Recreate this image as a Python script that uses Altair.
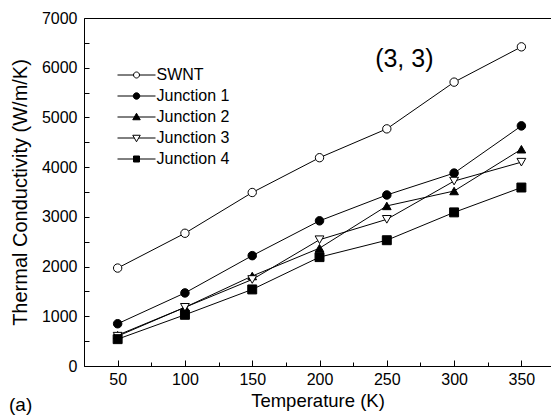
import altair as alt
import pandas as pd

# ---- data ----
temps = [50, 100, 150, 200, 250, 300, 350]
series_names = ["SWNT", "Junction 1", "Junction 2", "Junction 3", "Junction 4"]
swnt = [1970, 2670, 3490, 4190, 4770, 5710, 6420]
junction1 = [850, 1470, 2220, 2920, 3440, 3880, 4830]
junction2 = [620, 1180, 1810, 2370, 3220, 3520, 4360]
junction3 = [600, 1180, 1740, 2540, 2950, 3720, 4100]
junction4 = [540, 1030, 1540, 2190, 2530, 3090, 3590]

x_major_ticks = [50, 100, 150, 200, 250, 300, 350]
x_minor_ticks = [25, 75, 125, 175, 225, 275, 325]
y_tick_values = list(range(0, 7001, 500))

annotation_text = ["(3, 3)"]
annotation_T = [263]
annotation_k = [6175]
panel_label = ["(a)"]

rows = []
for name, vals in zip(series_names, [swnt, junction1, junction2, junction3, junction4]):
    for t, v in zip(temps, vals):
        rows.append({"series": name, "T": t, "k": v})
df = pd.DataFrame(rows)

FONT = "Liberation Sans"
W, H = 467, 348

xscale = alt.Scale(domain=[25, 372], nice=False, zero=False)
yscale = alt.Scale(domain=[0, 7000], nice=False)

xaxis = alt.Axis(
    orient="bottom",
    values=x_major_ticks,
    format="d",
    title="Temperature (K)",
    domain=False, grid=False,
    ticks=True, tickSize=6, offset=-6, tickColor="black", tickWidth=1,
    labelFont=FONT, labelFontSize=16, labelColor="black", labelPadding=5,
    labelOverlap=False, labelFlush=False,
    titleFont=FONT, titleFontSize=18.5, titleFontWeight="normal", titleColor="black",
    titlePadding=4,
)
xaxis_minor = alt.Axis(
    orient="bottom",
    values=x_minor_ticks,
    title=None, labels=False,
    domain=False, grid=False,
    ticks=True, tickSize=4, offset=-4, tickColor="black", tickWidth=1,
)
yaxis = alt.Axis(
    orient="left",
    values=y_tick_values,
    labelExpr="datum.value % 1000 == 0 ? datum.label : ''",
    format="d",
    title="Thermal Conductivity (W/m/K)",
    domain=False, grid=False,
    ticks=True, tickSize=5, offset=-5, tickColor="black", tickWidth=1,
    labelFont=FONT, labelFontSize=16, labelColor="black", labelPadding=7,
    labelOverlap=False, labelFlush=False,
    titleFont=FONT, titleFontSize=20, titleFontWeight="normal", titleColor="black",
    titlePadding=11,
)

shapes = ["circle", "circle", "triangle-up", "triangle-down", "square"]
fills = ["white", "black", "black", "white", "black"]
strokes = ["black", "black", "black", "black", "black"]
sizes = [70, 80, 95, 95, 60]

legend_paths = [
    "M-3.8,0H-0.6M0.6,0H3.8M0.6,0A0.6,0.6,0,1,1,-0.6,0A0.6,0.6,0,1,1,0.6,0Z",
    "M-3.8,0H3.8M0.65,0A0.65,0.65,0,1,1,-0.65,0A0.65,0.65,0,1,1,0.65,0Z",
    "M-3.8,0H3.8M0,-0.75L0.75,0.55L-0.75,0.55Z",
    "M-3.8,0H-0.45M0.45,0H3.8M-0.75,-0.55L0.75,-0.55L0,0.75Z",
    "M-3.8,0H3.8M-0.6,-0.6H0.6V0.6H-0.6Z",
]

base = alt.Chart(df)

lines = base.mark_line(color="black", strokeWidth=1).encode(
    x=alt.X("T:Q", scale=xscale, axis=xaxis),
    y=alt.Y("k:Q", scale=yscale, axis=yaxis),
    detail="series:N",
)

points = base.mark_point(filled=True, stroke="black", strokeWidth=1, opacity=1).encode(
    x=alt.X("T:Q", axis=None),
    y=alt.Y("k:Q", axis=None),
    shape=alt.Shape("series:N", scale=alt.Scale(domain=series_names, range=shapes), legend=None),
    fill=alt.Fill("series:N", scale=alt.Scale(domain=series_names, range=fills), legend=None),
    size=alt.Size("series:N", scale=alt.Scale(domain=series_names, range=sizes), legend=None),
)

leg = dict(
    orient="none", legendX=44.5, legendY=49, title=None,
    labelFont=FONT, labelFontSize=16, labelColor="black",
    symbolSize=100, symbolStrokeColor="black", symbolStrokeWidth=1,
    symbolOpacity=1, labelOffset=12, rowPadding=5, padding=0,
)

legend_layer = base.transform_filter("false").mark_point(
    filled=True, strokeWidth=1, opacity=1
).encode(
    x=alt.X("T:Q", axis=None),
    y=alt.Y("k:Q", axis=None),
    shape=alt.Shape("label:N", scale=alt.Scale(domain=series_names, range=legend_paths),
                    legend=alt.Legend(**leg)),
    fill=alt.Fill("label:N", scale=alt.Scale(domain=series_names, range=fills),
                  legend=alt.Legend(**leg)),
    stroke=alt.Stroke("label:N", scale=alt.Scale(domain=series_names, range=strokes),
                      legend=alt.Legend(**leg)),
).transform_calculate(label="datum.series")

ann = alt.Chart(pd.DataFrame({"T": annotation_T, "k": annotation_k, "t": annotation_text})).mark_text(
    font=FONT, fontSize=25, align="center", baseline="middle", color="black"
).encode(
    x=alt.X("T:Q", axis=xaxis_minor),
    y=alt.Y("k:Q", axis=None),
    text="t:N",
)

panel = alt.Chart(pd.DataFrame({"t": panel_label})).mark_text(
    font=FONT, fontSize=19, align="left", baseline="middle", color="black"
).encode(x=alt.value(-75), y=alt.value(387), text="t:N")

chart = alt.layer(lines, points, legend_layer, ann, panel).resolve_scale(
    shape="independent", fill="independent", size="independent", stroke="independent"
).resolve_axis(
    x="independent", y="independent"
).properties(
    width=W, height=H,
    autosize=alt.AutoSizeParams(type="none"),
    padding={"left": 84, "top": 18, "right": 0, "bottom": 52},
    background="white",
).configure_view(stroke="black", strokeWidth=1)

chart.save("out.html", embed_options={"renderer": "svg", "actions": False})
